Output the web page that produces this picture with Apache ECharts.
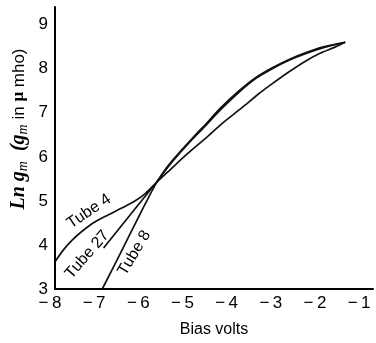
<!DOCTYPE html>
<html>
<head>
<meta charset="utf-8">
<script src="https://cdn.jsdelivr.net/npm/echarts@6/dist/echarts.min.js"></script>
<style>
html,body{margin:0;padding:0;background:#fff;}
#c{width:376px;height:343px;}
</style>
</head>
<body>
<div id="c"></div>
<script>
// Data (x = bias volts, y = ln gm)
const xTicks = [-8, -7, -6, -5, -4, -3, -2, -1];
const yTicks = [3, 4, 5, 6, 7, 8, 9];

const tube4 = [[-8,3.62],[-7.8,3.9],[-7.6,4.12],[-7.4,4.3],[-7.1,4.52],[-6.8,4.68],[-6.5,4.83],[-6.2,4.99],[-5.95,5.17],[-5.72,5.4],[-5.4,5.7],[-5.0,6.07],[-4.58,6.43],[-4.2,6.77],[-3.76,7.12],[-3.4,7.42],[-3.08,7.66],[-2.7,7.93],[-2.33,8.17],[-2.0,8.35],[-1.66,8.49],[-1.43,8.6]];
const tube27 = [[-6.9,3.93],[-6.5,4.43],[-6.1,4.93],[-5.72,5.4],[-5.4,5.82],[-5.0,6.28],[-4.58,6.72],[-4.25,7.07],[-3.83,7.47],[-3.45,7.78],[-3.08,8.0],[-2.7,8.19],[-2.33,8.34],[-1.9,8.48],[-1.43,8.6]];
const tube8 = [[-6.93,3.0],[-6.5,3.85],[-6.1,4.65],[-5.9,5.04],[-5.72,5.38],[-5.5,5.72],[-5.2,6.08],[-4.9,6.41],[-4.58,6.75],[-4.25,7.11],[-3.83,7.5],[-3.45,7.8],[-3.08,8.02],[-2.7,8.21],[-2.33,8.36],[-1.9,8.5],[-1.43,8.6]];

const seriesNames = ['Tube 4', 'Tube 27', 'Tube 8'];
// label anchor points in data coords with rotation (deg)
const labelAnchors = [[-7.23, 4.76, 34], [-7.27, 3.78, 49], [-6.2, 3.82, 59]];

const chart = echarts.init(document.getElementById('c'), null, {renderer:'canvas'});
const isTick = (v, arr) => arr.some(t => Math.abs(t - v) < 1e-6);
const fmtX = v => isTick(v, xTicks) ? '\u2212\u2009' + Math.abs(v) : '';
const fmtY = v => isTick(v, yTicks) ? String(v) : '';
const lineStyle = {color:'#111', width:1.7};
const mk = (name, data) => ({name, type:'line', data, smooth:0.3, symbol:'none', lineStyle, z:3});

chart.setOption({
  backgroundColor:'#fff',
  animation:false,
  grid:{left:55, right:1, top:7, bottom:42},
  xAxis:{
    type:'value', min:-8, max:-0.8, interval:1,
    name:'Bias volts', nameLocation:'middle', nameGap:33,
    nameTextStyle:{fontFamily:'Liberation Sans', fontSize:16, color:'#000'},
    axisLine:{show:true, onZero:false, lineStyle:{color:'#000', width:2}},
    axisTick:{show:false}, splitLine:{show:false},
    axisLabel:{formatter:fmtX, fontFamily:'Liberation Sans', fontSize:17, color:'#000', margin:6, padding:[0,10,0,0]}
  },
  yAxis:{
    type:'value', min:3, max:9.4, interval:1,
    axisLine:{show:true, onZero:false, lineStyle:{color:'#000', width:2}},
    axisTick:{show:false}, splitLine:{show:false},
    axisLabel:{formatter:fmtY, fontFamily:'Liberation Sans', fontSize:17, color:'#000', margin:7, padding:[0,0,6,0]}
  },
  series:[mk(seriesNames[0], tube4), mk(seriesNames[1], tube27), mk(seriesNames[2], tube8)]
});

function addLabels(){
  const els = [];
  labelAnchors.forEach((a, i) => {
    const p = chart.convertToPixel({gridIndex:0}, [a[0], a[1]]);
    els.push({type:'text', x:p[0], y:p[1], rotation:a[2]*Math.PI/180, z:10,
      style:{text:seriesNames[i], fontFamily:'Liberation Sans', fontSize:16, fill:'#000', align:'center', verticalAlign:'middle'}});
  });
  els.push({type:'text', x:19, y:129, rotation:Math.PI/2, z:10,
    style:{
      text:'{it|Ln g}{sub|m}{it|  (g}{sub|m}{n| in }{mu|\u03bc}{n| mho)}',
      align:'center', verticalAlign:'middle',
      rich:{
        it:{fontFamily:'Liberation Serif', fontStyle:'italic', fontWeight:'bold', fontSize:20, fill:'#000'},
        sub:{fontFamily:'Liberation Serif', fontStyle:'italic', fontSize:14, fill:'#000', padding:[8,0,0,0]},
        n:{fontFamily:'Liberation Sans', fontSize:17, fill:'#000'},
        mu:{fontFamily:'Liberation Serif', fontWeight:'bold', fontSize:17, fill:'#000'}
      }
    }});
  chart.setOption({graphic:{elements:els}});
}
addLabels();
</script>
</body>
</html>
